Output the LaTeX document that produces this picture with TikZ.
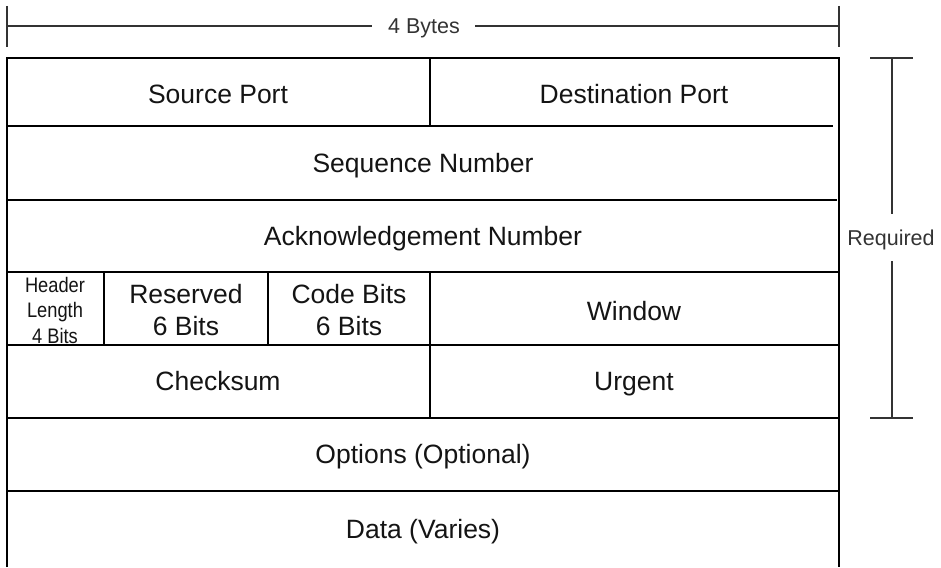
\documentclass[tikz,border=0pt]{standalone}
\usepackage{fontspec}
\setmainfont{Liberation Sans}
\begin{document}
\begin{tikzpicture}[x=1pt,y=-1pt,
  box/.style={line width=2.8pt, black},
  brk/.style={line width=2pt, black!80},
  lbl/.style={font=\fontsize{26.5}{32}\selectfont, text=black!92, align=center, inner sep=0pt},
  one/.style={lbl, anchor=base},
  side/.style={font=\fontsize{21.5}{26}\selectfont, text=black!80, inner sep=0pt, anchor=base},
  small/.style={font=\fontsize{21}{25.5}\selectfont, text=black!92, align=center, inner sep=0pt, xscale=0.87}]
\useasboundingbox (0,0) rectangle (941,567);
% top bracket
\node[side] (bytes) at (424,34) {4 Bytes};
\coordinate (tl) at (7,26);
\coordinate (tr) at (839,26);
\draw[brk] (7,6) -- (7,47);
\draw[brk] (839,6) -- (839,47);
\draw[brk] (tl) -- (372,26);
\draw[brk] (475,26) -- (tr);
% right bracket
\node[side] (req) at (891,245) {Required};
\draw[brk] (870,58) -- (913,58);
\draw[brk] (870,418) -- (913,418);
\draw[brk] (892,58) -- (892,214);
\draw[brk] (892,261) -- (892,418);
% main frame
\draw[box] (7,567) -- (7,58) -- (839,58) -- (839,567);
\draw[box] (7,126) -- (833,126);
\draw[box] (7,200) -- (837,200);
\draw[box] (7,272) -- (839,272);
\draw[box] (7,345) -- (839,345);
\draw[box] (7,418) -- (839,418);
\draw[box] (7,491) -- (839,491);
\draw[box] (430,58) -- (430,126);
\draw[box] (104,272) -- (104,345);
\draw[box] (268,272) -- (268,345);
\draw[box] (430,272) -- (430,418);
% labels
\node[one] (src) at (218,103) {Source Port};
\node[one] (dst) at (634,103) {Destination Port};
\node[one] (seq) at (423,172) {Sequence Number};
\node[one] (ack) at (423,245) {Acknowledgement Number};
\node[small] (hl) at (55,310) {Header\\Length\\4 Bits};
\node[lbl] (res) at (186,310) {Reserved\\6 Bits};
\node[lbl] (code) at (349,310) {Code Bits\\6 Bits};
\node[one] (win) at (634,320) {Window};
\node[one] (chk) at (218,390) {Checksum};
\node[one] (urg) at (634,390) {Urgent};
\node[one] (opt) at (423,463) {Options (Optional)};
\node[one] (data) at (423,538) {Data (Varies)};
\end{tikzpicture}
\end{document}
